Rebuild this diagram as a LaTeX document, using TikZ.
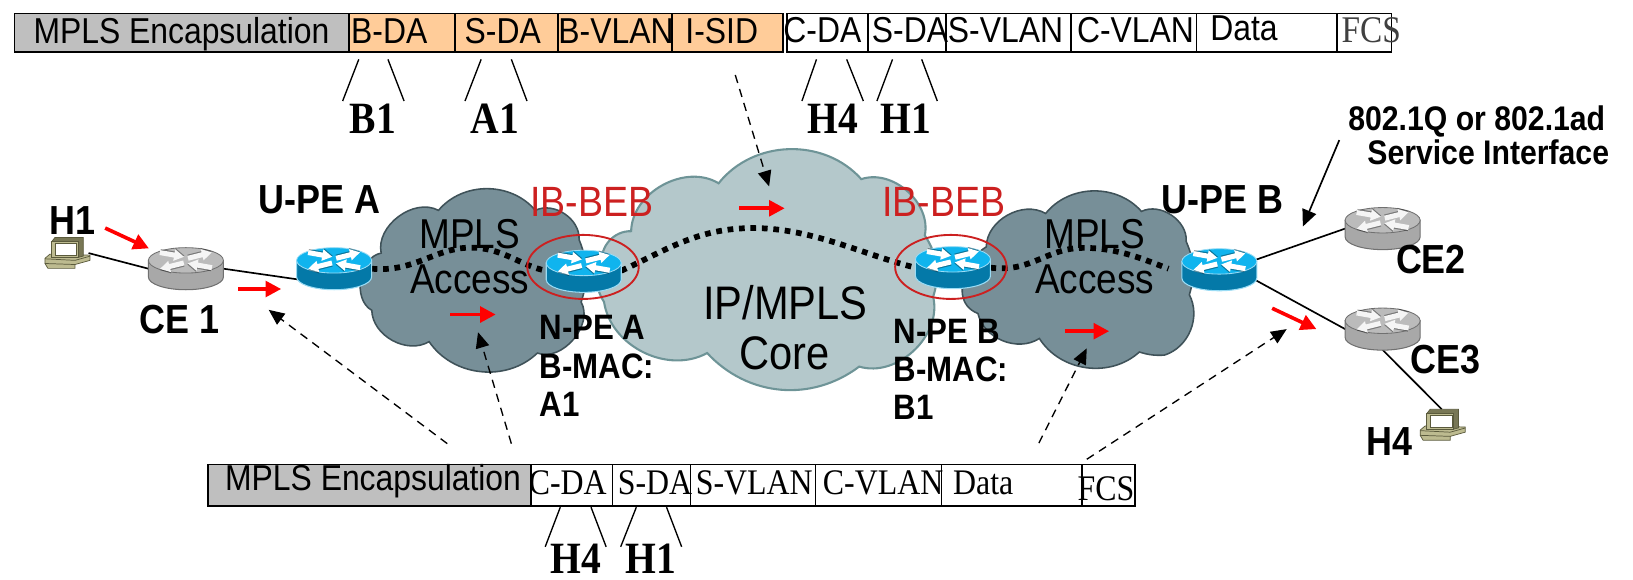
\documentclass[tikz,border=0pt]{standalone}
\usepackage{graphicx}
\usepackage{fontspec}
\setmainfont{Liberation Sans}
\newfontfamily\tmfont{Liberation Serif}
\usetikzlibrary{arrows.meta,shapes.geometric}
\definecolor{accfill}{HTML}{778F98}
\definecolor{accedge}{HTML}{3F5259}
\definecolor{corefill}{HTML}{B4C8CB}
\definecolor{coreedge}{HTML}{6E9497}
\definecolor{rtop}{HTML}{10B4EE}
\definecolor{rside}{HTML}{0479A8}
\definecolor{redge}{HTML}{9ADCF5}
\definecolor{gtop}{HTML}{BBBBBB}
\definecolor{gside}{HTML}{A8A8A8}
\definecolor{gedge}{HTML}{707070}
\definecolor{ibred}{HTML}{CC2020}
\definecolor{pcfill}{HTML}{BDBB90}
\definecolor{pcedge}{HTML}{5A5A3C}
\definecolor{cellgrey}{HTML}{BFBFBF}
\definecolor{cellorange}{HTML}{FFCC99}
\newcommand{\vs}[1]{\scalebox{1}[1.13]{#1}}
\tikzset{
  x=1pt,y=-1pt,
  cellbox/.style={draw=black,line width=1.6pt,inner sep=0pt,outer sep=0pt},
  sans30/.style={inner sep=0pt,font=\fontsize{30.6}{36}\selectfont,anchor=base west},
  serif30/.style={inner sep=0pt,font=\tmfont\fontsize{30.6}{36}\selectfont,anchor=base west},
  bigbold/.style={inner sep=0pt,font=\tmfont\bfseries\fontsize{38}{44}\selectfont,anchor=base},
  boldlab/.style={inner sep=0pt,font=\bfseries\fontsize{34.5}{38}\selectfont,anchor=base},
  boldsm/.style={inner sep=0pt,font=\bfseries\fontsize{30}{34}\selectfont,anchor=base west},
  boldsvc/.style={inner sep=0pt,font=\bfseries\fontsize{29}{34}\selectfont,anchor=base},
  cloudlab/.style={inner sep=0pt,font=\fontsize{35.5}{40}\selectfont,anchor=base},
  corelab/.style={inner sep=0pt,font=\fontsize{40}{46}\selectfont,anchor=base},
  iblab/.style={inner sep=0pt,text=ibred,font=\fontsize{36}{40}\selectfont,anchor=base},
  accesscloud/.style={fill=accfill,draw=accedge,line width=1.5pt},
  corecloud/.style={fill=corefill,draw=coreedge,line width=2pt},
  routernode/.style={ellipse,minimum width=72pt,minimum height=40pt,inner sep=0pt,outer sep=0pt},
  pcnode/.style={rectangle,minimum width=42pt,minimum height=30pt,inner sep=0pt,outer sep=0pt},
  link/.style={draw=black,line width=1.6pt},
  tickline/.style={draw=black,line width=1.3pt},
  mplspath/.style={draw=black,line width=5.5pt,dash pattern=on 5.5pt off 5.5pt},
  redarrow/.style={draw=red,line width=3.5pt,-{Triangle[length=15pt,width=15pt]}},
  dasharrow/.style={draw=black,line width=1.3pt,dash pattern=on 8pt off 6pt,-{Triangle[length=15pt,width=13pt,fill=black]}},
  solidarrow/.style={draw=black,line width=1.6pt,-{Triangle[length=16pt,width=14pt,fill=black]}},
  ibring/.style={draw=ibred,line width=1.8pt,fill=none},
}
% router icon: x, y of the centre of the top face, top colour, side colour, edge colour, arrow colour
\newcommand{\routericon}[6]{%
  \begin{scope}[shift={(#1,#2)}]
    \path[fill=#4,draw=#5,line width=1pt] (-36,0) -- (-36,16) arc[start angle=180,end angle=360,x radius=36pt,y radius=12.2pt] -- (36,0) -- cycle;
    \path[fill=#3,draw=#5,line width=0.8pt] (0,0) ellipse[x radius=36pt,y radius=12.2pt];
    \foreach \tx/\ty/\ang in {-25/-7.5/-10, 2/-2/14, -2/2.5/194, 25/7/170}{
      \begin{scope}[shift={(\tx,\ty)},rotate=\ang]
        \fill[black,opacity=0.35,shift={(0.3,-1.1)}] (0,-2.4) -- (14,-2.4) -- (14,-5.6) -- (23.5,0) -- (14,5.6) -- (14,2.4) -- (0,2.4) -- cycle;
        \fill[#6] (0,-2.4) -- (14,-2.4) -- (14,-5.6) -- (23.5,0) -- (14,5.6) -- (14,2.4) -- (0,2.4) -- cycle;
      \end{scope}
    }
  \end{scope}}
% computer icon: x, y of centre
\newcommand{\pcicon}[2]{%
  \begin{scope}[shift={(#1,#2)}]
    \path[fill=pcfill,draw=pcedge,line width=0.7pt] (-20.8,5) -- (-16,1) -- (22.4,2) -- (22.4,7) -- (8,11) -- (8,14.7) -- (-18,14.7) -- (-20.8,10) -- cycle;
    \path[draw=pcedge,line width=0.7pt] (-20.8,5.5) -- (8,7) -- (22.4,3);
    \path[draw=pcedge,line width=0.7pt] (-20.8,10) -- (8,11);
    \path[fill=pcedge!70!pcfill,draw=pcedge,line width=0.7pt] (-14.4,-10.9) -- (-11.2,-15) -- (16,-15) -- (16,2.9) -- (11.2,4.1) -- (11.2,-10.9) -- cycle;
    \path[fill=pcfill,draw=pcedge,line width=0.7pt] (-14.4,-10.9) -- (11.2,-10.9) -- (11.2,4.1) -- (-14.4,4.1) -- cycle;
    \path[fill=white,draw=pcedge,line width=0.5pt] (-11.2,-9.3) -- (9.6,-9.3) -- (9.6,1.9) -- (-11.2,1.9) -- cycle;
  \end{scope}}
\begin{document}
\begin{tikzpicture}
\useasboundingbox (0,0) rectangle (1568,556);
% ---- clouds
\path[accesscloud] (366,243) to[bend left=65] (421,202) to[bend left=50] (514,202) to[bend left=60] (556,230)
  to[bend left=20] (558,290) to[bend left=70] (516,339) to[bend left=50] (412,328) to[bend left=60] (357,298) to[bend left=70] (366,243) -- cycle;
\path[corecloud] (606,222) to[bend left=60] (690,176) to[bend left=50] (827,172) to[bend left=60] (888,226)
  to[bend left=25] (896,285) to[bend left=60] (825,352) to[bend left=42] (679,339) to[bend left=55] (580,290) to[bend left=30] (578,253) to[bend left=50] (606,222) -- cycle;
\path[accesscloud] (947,237) to[bend left=60] (1004,205) to[bend left=50] (1096,203) to[bend left=60] (1139,232)
  to[bend left=20] (1142,283) to[bend left=50] (1118,341) to[bend left=10] (1094,338) to[bend left=50] (998,325) to[bend left=55] (939,301) to[bend left=30] (924,282) to[bend left=30] (947,237) -- cycle;
% ---- device nodes
\node[routernode] (ce1) at (178.5,258) {};
\node[routernode] (upea) at (320.8,258) {};
\node[routernode] (npea) at (560.5,260) {};
\node[routernode] (npeb) at (915,257) {};
\node[routernode] (upeb) at (1170.8,259) {};
\node[routernode] (ce2) at (1327.6,219.5) {};
\node[routernode] (ce3) at (1327.6,316) {};
\node[pcnode] (pc1) at (64,243) {};
\node[pcnode] (pc4) at (1384.4,408) {};
% ---- links
\path[link] (pc1.east) -- (ce1.west);
\path[link] (ce1.east) -- (upea.200);
\path[link] (upeb.15) -- (ce2.west);
\path[link] (upeb.-15) -- (ce3.west);
\path[link] (ce3.south) -- (pc4.north);
% ---- MPLS paths
\path[mplspath] (upea.east) .. controls (400,262) and (420,235) .. (458,238) .. controls (485,240) and (500,255) .. (npea.west);
\path[mplspath] (npea.east) .. controls (640,240) and (670,219) .. (723,219) .. controls (780,219) and (830,245) .. (npeb.west);
\path[mplspath] (npeb.east) .. controls (990,262) and (1005,238) .. (1040,238) .. controls (1075,238) and (1100,250) .. (1122,258);
% ---- routers
\routericon{178.5}{250}{gtop}{gside}{gedge}{white!85!gtop}
\routericon{320.8}{250}{rtop}{rside}{redge}{white}
\routericon{560.5}{252.5}{rtop}{rside}{redge}{white}
\routericon{915}{249}{rtop}{rside}{redge}{white}
\routericon{1170.8}{251}{rtop}{rside}{redge}{white}
\routericon{1327.6}{211.5}{gtop}{gside}{gedge}{white!85!gtop}
\routericon{1327.6}{308}{gtop}{gside}{gedge}{white!85!gtop}
\pcicon{64}{243}
\pcicon{1384.4}{408}
\node[ellipse,ibring,minimum width=107pt,minimum height=61.5pt,inner sep=0pt] (ringa) at (559.8,256.3) {};
\node[ellipse,ibring,minimum width=107pt,minimum height=61.5pt,inner sep=0pt] (ringb) at (913,256.3) {};
% ---- top frame
\node[cellbox,fill=cellgrey,minimum width=321pt,minimum height=37pt] (tgrey) at (174.5,31.5) {};
\node[cellbox,fill=cellorange,minimum width=102pt,minimum height=37pt] (tbda) at (386,31.5) {};
\node[cellbox,fill=cellorange,minimum width=99pt,minimum height=37pt] (tsda) at (486.5,31.5) {};
\node[cellbox,fill=cellorange,minimum width=109pt,minimum height=37pt] (tbvl) at (590.5,31.5) {};
\node[cellbox,fill=cellorange,minimum width=107pt,minimum height=37pt] (tisid) at (698.5,31.5) {};
\node[cellbox,fill=white,minimum width=78pt,minimum height=37pt] (tcda) at (794.5,31.5) {};
\node[cellbox,fill=white,minimum width=75pt,minimum height=37pt] (tsda2) at (871,31.5) {};
\node[cellbox,fill=white,minimum width=120pt,minimum height=37pt] (tsvl) at (968.5,31.5) {};
\node[cellbox,fill=white,minimum width=121pt,minimum height=37pt] (tcvl) at (1089,31.5) {};
\node[cellbox,fill=white,minimum width=135pt,minimum height=37pt] (tdata) at (1216.5,31.5) {};
\node[cellbox,fill=white,minimum width=52pt,minimum height=37pt] (tfcs) at (1310,31.5) {};
\node[sans30] (ttg) at (32,42) {\vs{MPLS Encapsulation}};
\node[sans30] (ttb) at (337,42) {\vs{B-DA}};
\node[sans30] (tts) at (446,42) {\vs{S-DA}};
\node[sans30] (ttv) at (536,42) {\vs{B-VLAN}};
\node[sans30] (tti) at (658,42) {\vs{I-SID}};
\node[sans30] (ttc) at (752,41) {\vs{C-DA}};
\node[sans30] (tts2) at (837,41) {\vs{S-DA}};
\node[sans30] (ttsv) at (910,41) {\vs{S-VLAN}};
\node[sans30] (ttcv) at (1034,41) {\vs{C-VLAN}};
\node[sans30] (ttd) at (1162,39) {\vs{Data}};
\node[serif30,text=black!75,font=\tmfont\fontsize{32}{36}\selectfont] (ttf) at (1288,41) {\vs{FCS}};
% ---- bottom frame
\node[cellbox,fill=cellgrey,minimum width=310pt,minimum height=40pt] (bgrey) at (355,466) {};
\node[cellbox,fill=white,minimum width=78pt,minimum height=40pt] (bcda) at (549,466) {};
\node[cellbox,fill=white,minimum width=75pt,minimum height=40pt] (bsda) at (625.5,466) {};
\node[cellbox,fill=white,minimum width=120pt,minimum height=40pt] (bsvl) at (723,466) {};
\node[cellbox,fill=white,minimum width=121pt,minimum height=40pt] (bcvl) at (843.5,466) {};
\node[cellbox,fill=white,minimum width=135pt,minimum height=40pt] (bdata) at (971.5,466) {};
\node[cellbox,fill=white,minimum width=51pt,minimum height=40pt] (bfcs) at (1064.5,466) {};
\node[sans30] (btg) at (216,471) {\vs{MPLS Encapsulation}};
\node[serif30] (btc) at (507.5,475) {\vs{C-DA}};
\node[serif30] (bts) at (593,475) {\vs{S-DA}};
\node[serif30] (btsv) at (668,475) {\vs{S-VLAN}};
\node[serif30] (btcv) at (790,475) {\vs{C-VLAN}};
\node[serif30] (btd) at (915,475) {\vs{Data}};
\node[serif30] (btf) at (1034.5,481) {\vs{FCS}};
% ---- address ticks
\coordinate (t1a) at (344.5,57); \coordinate (t1b) at (329,97);
\coordinate (t2a) at (372.5,57); \coordinate (t2b) at (388,97);
\coordinate (t3a) at (462,57); \coordinate (t3b) at (446.5,97);
\coordinate (t4a) at (491,57); \coordinate (t4b) at (506,97);
\coordinate (t5a) at (784,57); \coordinate (t5b) at (770,97);
\coordinate (t6a) at (813,57); \coordinate (t6b) at (829,97);
\coordinate (t7a) at (857,57); \coordinate (t7b) at (842,97);
\coordinate (t8a) at (885,57); \coordinate (t8b) at (900,97);
\coordinate (b1a) at (538,487); \coordinate (b1b) at (523.5,525);
\coordinate (b2a) at (567.5,487); \coordinate (b2b) at (582,525);
\coordinate (b3a) at (611,487); \coordinate (b3b) at (596,525);
\coordinate (b4a) at (640,487); \coordinate (b4b) at (654.5,525);
\foreach \n in {t1,t2,t3,t4,t5,t6,t7,t8,b1,b2,b3,b4}{\path[tickline] (\n a) -- (\n b);}
\node[bigbold] (lb1) at (358,128) {\vs{B1}};
\node[bigbold] (la1) at (475,128) {\vs{A1}};
\node[bigbold] (lh4) at (800,128) {\vs{H4}};
\node[bigbold] (lh1) at (870,128) {\vs{H1}};
\node[bigbold] (lbh4) at (553,551) {\vs{H4}};
\node[bigbold] (lbh1) at (625,551) {\vs{H1}};
% ---- red arrows
\coordinate (r1a) at (101,219); \coordinate (r1b) at (143,238.5);
\coordinate (r2a) at (229,277.5); \coordinate (r2b) at (270,277.5);
\coordinate (r3a) at (432.5,302); \coordinate (r3b) at (476,302);
\coordinate (r4a) at (710,200); \coordinate (r4b) at (753.5,200);
\coordinate (r5a) at (1022.5,318); \coordinate (r5b) at (1065,318);
\coordinate (r6a) at (1221.5,296); \coordinate (r6b) at (1264,316);
\foreach \n in {r1,r2,r3,r4,r5,r6}{\path[redarrow] (\n a) -- (\n b);}
% ---- dashed arrows
\coordinate (d1a) at (706,72); \coordinate (d1b) at (738.5,179);
\coordinate (d2a) at (429.5,426); \coordinate (d2b) at (258,297.5);
\coordinate (d3a) at (491,426); \coordinate (d3b) at (459,319);
\coordinate (d4a) at (997.5,425.5); \coordinate (d4b) at (1043.5,334.5);
\coordinate (d5a) at (1043.5,441); \coordinate (d5b) at (1235.5,316);
\foreach \n in {d1,d2,d3,d4,d5}{\path[dasharrow] (\n a) -- (\n b);}
\coordinate (sa) at (1286,134.5); \coordinate (sb) at (1251,217.5);
\path[solidarrow] (sa) -- (sb);
% ---- labels
\node[boldlab] (lblh1) at (70,225) {\vs{H1}};
\node[boldlab] (lblua) at (307,205) {\vs{U-PE A}};
\node[boldlab] (lblce1) at (172,320) {\vs{CE 1}};
\node[boldlab] (lblub) at (1174,205) {\vs{U-PE B}};
\node[boldlab] (lblce2) at (1374,262.5) {\vs{CE2}};
\node[boldlab] (lblce3) at (1388,359) {\vs{CE3}};
\node[boldlab] (lblh4) at (1334.5,437) {\vs{H4}};
\node[boldsm] (na1) at (518,326) {\vs{N-PE A}};
\node[boldsm] (na2) at (518,363) {\vs{B-MAC:}};
\node[boldsm] (na3) at (518,400) {\vs{A1}};
\node[boldsm] (nb1) at (858,330) {\vs{N-PE B}};
\node[boldsm] (nb2) at (858,366) {\vs{B-MAC:}};
\node[boldsm] (nb3) at (858,403) {\vs{B1}};
\node[iblab] (iba) at (568,208) {\vs{IB-BEB}};
\node[iblab] (ibb) at (906,208) {\vs{IB-BEB}};
\node[cloudlab] (m1) at (451,238.5) {\vs{MPLS}};
\node[cloudlab] (a1) at (451,281.5) {\vs{Access}};
\node[cloudlab] (m2) at (1051,238.5) {\vs{MPLS}};
\node[cloudlab] (a2) at (1051,282) {\vs{Access}};
\node[corelab] (ipm) at (754,307) {\vs{IP/MPLS}};
\node[corelab] (cor) at (753,355) {\vs{Core}};
\node[boldsvc] (sv1) at (1418,125) {\vs{802.1Q or 802.1ad}};
\node[boldsvc] (sv2) at (1429,158) {\vs{Service Interface}};
\end{tikzpicture}
\end{document}
